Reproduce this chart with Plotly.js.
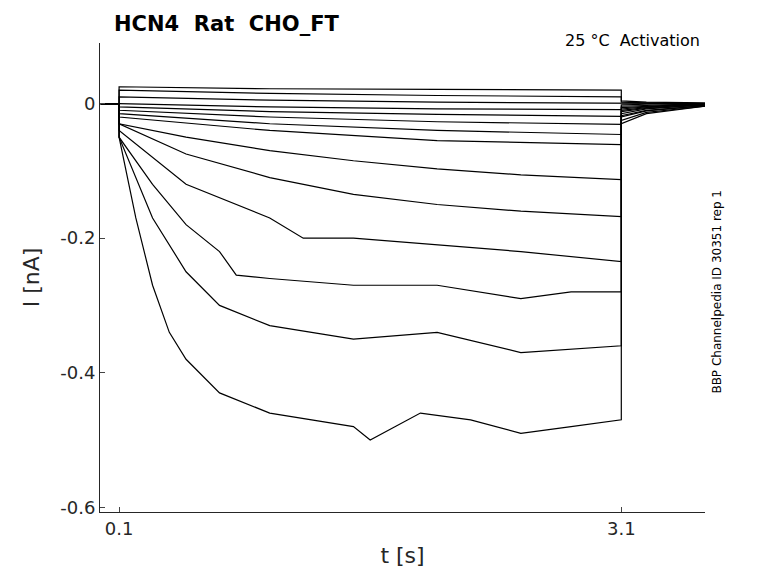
<!DOCTYPE html>
<html>
<head>
<script src="https://cdn.plot.ly/plotly-3.0.1.min.js"></script>
<style>body{margin:0}</style>
</head>
<body>
<div id="plot" style="width:778px;height:583px"></div>
<script>
// sweep sample times during the pulse (s) and currents (nA)
var t1 = [0.1, 0.2, 0.3, 0.4, 0.5, 0.7, 1.0, 1.5, 1.6, 1.9, 2.2, 2.5, 2.8, 3.1];
var i1 = [-0.05, -0.17, -0.27, -0.34, -0.38, -0.43, -0.46, -0.48, -0.5, -0.46, -0.47, -0.49, -0.48, -0.47];
var t2 = [0.1, 0.3, 0.5, 0.7, 1.0, 1.5, 2.0, 2.5, 3.1];
var i2 = [-0.05, -0.17, -0.25, -0.30, -0.33, -0.35, -0.34, -0.37, -0.36];
var t3 = [0.1, 0.3, 0.5, 0.7, 0.8, 1.0, 1.5, 2.0, 2.5, 2.8, 3.1];
var i3 = [-0.05, -0.12, -0.18, -0.22, -0.255, -0.26, -0.27, -0.27, -0.29, -0.28, -0.28];
var t4 = [0.1, 0.5, 1.0, 1.2, 1.5, 2.0, 2.5, 3.1];
var i4 = [-0.04, -0.12, -0.17, -0.2, -0.2, -0.21, -0.22, -0.235];
var t5 = [0.1, 0.5, 1.0, 1.5, 2.0, 2.5, 3.1];
var i5 = [-0.03, -0.075, -0.11, -0.135, -0.15, -0.16, -0.168];
var t6 = [0.1, 0.5, 1.0, 1.5, 2.0, 2.5, 3.1];
var i6 = [-0.03, -0.05, -0.07, -0.085, -0.097, -0.106, -0.113];
var t7 = [0.1, 1.0, 2.0, 3.1];
var i7 = [-0.02, -0.04, -0.055, -0.061];
var tFlat = [0.1, 1.0, 2.0, 3.1];
var iFlat = [
  [-0.015, -0.03, -0.04, -0.046],
  [-0.01, -0.02, -0.027, -0.031],
  [-0.005, -0.012, -0.016, -0.019],
  [0.0, -0.005, -0.008, -0.009],
  [0.01, 0.005, 0.002, 0.0],
  [0.02, 0.015, 0.012, 0.01],
  [0.025, 0.022, 0.021, 0.02]
];
// holding level before the pulse, and tail current after it
var tPre = [-0.01, 0.1];
var tTail = [3.1, 3.25, 3.6];
var tailStart = [-0.03, -0.025, -0.02, -0.018, -0.015, -0.012, -0.01, -0.008, -0.006, -0.004, -0.002, 0.0, 0.002, 0.004];
var tailMid = [-0.015, -0.013, -0.011, -0.01, -0.008, -0.007, -0.006, -0.005, -0.004, -0.003, -0.001, 0.0, 0.001, 0.002];
var tailEnd = [-0.004, -0.004, -0.003, -0.003, -0.002, -0.002, -0.001, -0.001, 0.0, 0.0, 0.0, 0.0, 0.0, 0.001];

var sweeps = [[t1, i1], [t2, i2], [t3, i3], [t4, i4], [t5, i5], [t6, i6], [t7, i7]];
iFlat.forEach(function (v) { sweeps.push([tFlat, v]); });

var data = sweeps.map(function (s, k) {
  return {
    x: tPre.concat(s[0], tTail),
    y: [0, 0].concat(s[1], [tailStart[k], tailMid[k], tailEnd[k]]),
    type: 'scatter', mode: 'lines',
    line: {color: 'black', width: 1.2},
    showlegend: false, hoverinfo: 'skip'
  };
});

var layout = {
  width: 778, height: 583,
  margin: {l: 100, r: 73, t: 43, b: 71},
  paper_bgcolor: 'white', plot_bgcolor: 'white',
  font: {family: 'DejaVu Sans', color: '#262626'},
  xaxis: {
    range: [-0.014, 3.6], tickvals: [0.1, 3.1], ticktext: ['0.1', '3.1'],
    showline: true, linecolor: '#262626', ticks: 'inside', ticklen: 5,
    showgrid: false, zeroline: false, tickfont: {size: 18},
    title: {text: 't [s]', font: {size: 22}, standoff: 10}
  },
  yaxis: {
    range: [-0.607, 0.09], tickvals: [0, -0.2, -0.4, -0.6],
    ticktext: ['0', '-0.2', '-0.4', '-0.6'],
    showline: true, linecolor: '#262626', ticks: 'inside', ticklen: 5,
    showgrid: false, zeroline: false, tickfont: {size: 18},
    title: {text: 'I [nA]', font: {size: 22}, standoff: 14}
  },
  annotations: [
    {text: '<b>HCN4  Rat  CHO_FT</b>', xref: 'paper', yref: 'paper', x: 0.02, y: 1.01,
     xanchor: 'left', yanchor: 'bottom', showarrow: false, font: {size: 21, color: 'black'}},
    {text: '25 °C  Activation', xref: 'paper', yref: 'paper', x: 0.995, y: 1.03,
     xanchor: 'right', yanchor: 'top', showarrow: false, font: {size: 16, color: 'black'}},
    {text: 'BBP Channelpedia ID 30351 rep 1', xref: 'paper', yref: 'paper', x: 1.005, y: 0.47,
     xanchor: 'left', yanchor: 'middle', textangle: -90, showarrow: false,
     font: {size: 12, color: 'black'}}
  ]
};

Plotly.newPlot('plot', data, layout, {displayModeBar: false});
</script>
</body>
</html>
